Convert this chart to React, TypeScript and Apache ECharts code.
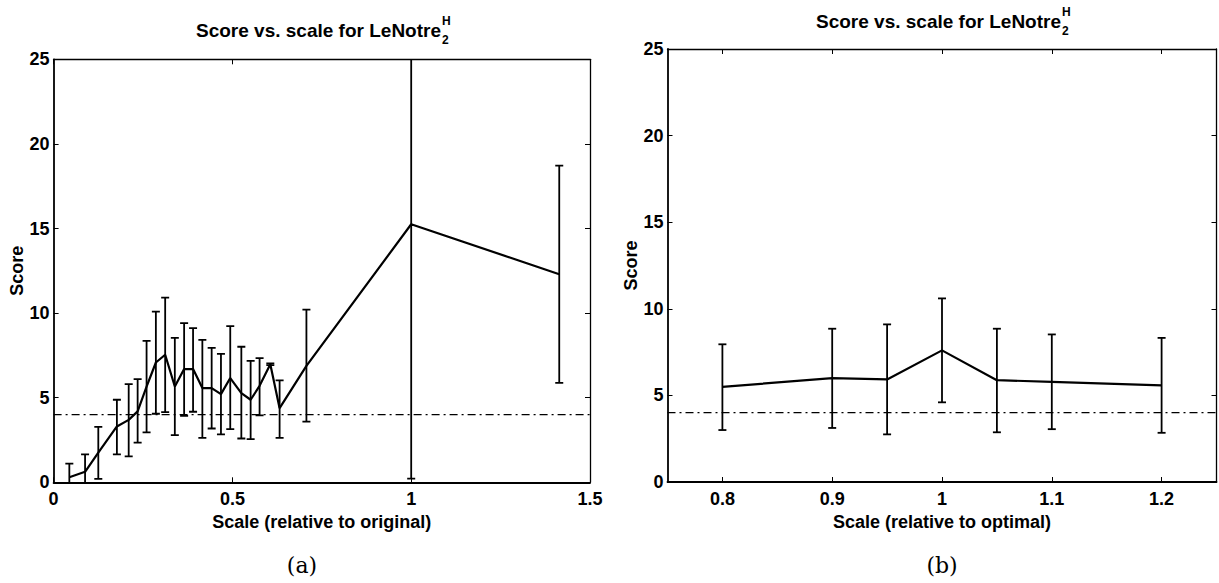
import React, { useEffect, useRef } from 'react';
import * as echarts from 'echarts';

// ---- Data: panel (a) ----
const leftX = [0.044, 0.088, 0.125, 0.177, 0.21, 0.235, 0.26, 0.286, 0.312, 0.339, 0.365, 0.39, 0.416, 0.442, 0.468, 0.494, 0.525, 0.551, 0.576, 0.606, 0.632, 0.707, 1.0, 1.414];
const leftScore = [0.3, 0.62, 1.75, 3.3, 3.69, 4.19, 5.66, 7.08, 7.54, 5.66, 6.69, 6.69, 5.57, 5.57, 5.21, 6.16, 5.27, 4.88, 5.7, 6.98, 4.38, 6.88, 15.25, 12.3];
const leftHigh = [1.1, 1.65, 3.28, 4.88, 5.8, 6.1, 8.36, 10.09, 10.92, 8.54, 9.41, 9.11, 8.42, 7.95, 7.59, 9.23, 8.01, 7.18, 7.34, 7.03, 6.02, 10.2, 30.3, 18.72];
const leftLow = [-0.5, -0.4, 0.2, 1.65, 1.53, 2.35, 2.95, 4.05, 4.15, 2.79, 3.93, 4.17, 2.63, 3.18, 2.83, 3.14, 2.59, 2.55, 3.95, 6.93, 2.63, 3.59, 0.22, 5.88];

// ---- Data: panel (b) ----
const rightX = [0.8, 0.9, 0.95, 1.0, 1.05, 1.1, 1.2];
const rightScore = [5.49, 6.0, 5.92, 7.6, 5.88, 5.78, 5.58];
const rightHigh = [7.95, 8.85, 9.1, 10.6, 8.85, 8.52, 8.32];
const rightLow = [3.0, 3.12, 2.75, 4.6, 2.87, 3.05, 2.84];

// ---- Axes ----
const leftXRange = [0, 1.5];
const rightXRange = [0.75, 1.25];
const rightXTicks = [0.8, 0.9, 1, 1.1, 1.2];
const yRange = [0, 25];
const threshold = 4;

const titleText = 'Score vs. scale for LeNotre';
const leftXName = 'Scale (relative to original)';
const rightXName = 'Scale (relative to optimal)';
const yName = 'Score';

const FONT = 'Liberation Sans';

const labelStyle = {
  fontFamily: FONT,
  fontWeight: 'bold' as const,
  fontSize: 18,
  color: '#000',
};

function errorBarItem(params: any, api: any) {
  const x = api.value(0);
  const lo = api.value(1);
  const hi = api.value(2);
  const pHi = api.coord([x, hi]);
  const pLo = api.coord([x, lo]);
  const half = 4;
  const style = { stroke: '#000', lineWidth: 1.8, fill: null };
  return {
    type: 'group',
    children: [
      { type: 'line', shape: { x1: pHi[0], y1: pHi[1], x2: pLo[0], y2: pLo[1] }, style },
      { type: 'line', shape: { x1: pHi[0] - half, y1: pHi[1], x2: pHi[0] + half, y2: pHi[1] }, style },
      { type: 'line', shape: { x1: pLo[0] - half, y1: pLo[1], x2: pLo[0] + half, y2: pLo[1] }, style },
    ],
  };
}

function mainXAxis(gridIndex: number, range: number[], name: string, custom?: number[]) {
  const ax: any = {
    type: 'value',
    gridIndex,
    min: range[0],
    max: range[1],
    position: 'bottom',
    name,
    nameLocation: 'middle',
    nameGap: 28,
    nameTextStyle: { ...labelStyle },
    axisLine: { show: true, onZero: false, lineStyle: { color: '#000', width: 1.8 } },
    axisTick: { show: true, inside: true, length: 5, lineStyle: { color: '#000', width: 1 } },
    axisLabel: { ...labelStyle, margin: 8 },
    splitLine: { show: false },
  };
  if (custom) {
    ax.axisTick.customValues = custom;
    ax.axisLabel.customValues = custom;
  } else {
    ax.interval = 0.5;
  }
  return ax;
}

function topXAxis(gridIndex: number, range: number[], custom?: number[]) {
  const ax: any = {
    type: 'value',
    gridIndex,
    min: range[0],
    max: range[1],
    position: 'top',
    axisLine: { show: true, onZero: false, lineStyle: { color: '#000', width: 1.3 } },
    axisTick: { show: true, inside: true, length: 5, lineStyle: { color: '#000', width: 1 } },
    axisLabel: { show: false },
    splitLine: { show: false },
  };
  if (custom) {
    ax.axisTick.customValues = custom;
    ax.axisLabel.customValues = custom;
  } else {
    ax.interval = 0.5;
  }
  return ax;
}

function mainYAxis(gridIndex: number) {
  return {
    type: 'value',
    gridIndex,
    min: yRange[0],
    max: yRange[1],
    interval: 5,
    position: 'left',
    name: yName,
    nameLocation: 'middle',
    nameGap: 26,
    nameTextStyle: { ...labelStyle },
    axisLine: { show: true, onZero: false, lineStyle: { color: '#000', width: 1.8 } },
    axisTick: { show: true, inside: true, length: 5, lineStyle: { color: '#000', width: 1 } },
    axisLabel: { ...labelStyle, margin: 4 },
    splitLine: { show: false },
  };
}

function rightYAxis(gridIndex: number) {
  return {
    type: 'value',
    gridIndex,
    min: yRange[0],
    max: yRange[1],
    interval: 5,
    position: 'right',
    axisLine: { show: true, onZero: false, lineStyle: { color: '#000', width: 1.3 } },
    axisTick: { show: true, inside: true, length: 5, lineStyle: { color: '#000', width: 1 } },
    axisLabel: { show: false },
    splitLine: { show: false },
  };
}

function titleGraphic(endX: number, cy: number) {
  return [
    {
      type: 'text',
      x: endX,
      y: cy,
      style: { text: titleText, font: `bold 19px "${FONT}"`, fill: '#000', align: 'right', verticalAlign: 'middle' },
    },
    {
      type: 'text',
      x: endX + 1,
      y: cy - 9,
      style: { text: 'H', font: `bold 12px "${FONT}"`, fill: '#000', align: 'left', verticalAlign: 'middle' },
    },
    {
      type: 'text',
      x: endX + 1,
      y: cy + 10,
      style: { text: '2', font: `bold 12px "${FONT}"`, fill: '#000', align: 'left', verticalAlign: 'middle' },
    },
  ];
}

export default function App() {
  const ref = useRef<HTMLDivElement>(null);

  useEffect(() => {
    if (!ref.current) return;
    const chart = echarts.init(ref.current, undefined, { renderer: 'svg' });

    const leftLine = leftX.map((x, i) => [x, leftScore[i]]);
    const leftBars = leftX.map((x, i) => [x, leftLow[i], leftHigh[i]]);
    const rightLine = rightX.map((x, i) => [x, rightScore[i]]);
    const rightBars = rightX.map((x, i) => [x, rightLow[i], rightHigh[i]]);

    const option: any = {
      animation: false,
      backgroundColor: '#fff',
      grid: [
        { left: 53.6, top: 59.3, width: 536.4, height: 423 },
        { left: 667.5, top: 49, width: 549, height: 433 },
      ],
      xAxis: [
        mainXAxis(0, leftXRange, leftXName),
        topXAxis(0, leftXRange),
        mainXAxis(1, rightXRange, rightXName, rightXTicks),
        topXAxis(1, rightXRange, rightXTicks),
      ],
      yAxis: [mainYAxis(0), rightYAxis(0), mainYAxis(1), rightYAxis(1)],
      series: [
        {
          type: 'line',
          xAxisIndex: 0,
          yAxisIndex: 0,
          data: [[leftXRange[0], threshold], [leftXRange[1], threshold]],
          symbol: 'none',
          lineStyle: { color: '#000', width: 1.3, type: [8, 4, 2, 4] },
          silent: true,
        },
        {
          type: 'line',
          xAxisIndex: 0,
          yAxisIndex: 0,
          data: leftLine,
          symbol: 'none',
          lineStyle: { color: '#000', width: 2.2 },
          clip: true,
        },
        {
          type: 'custom',
          xAxisIndex: 0,
          yAxisIndex: 0,
          data: leftBars,
          encode: { x: 0, y: [1, 2] },
          renderItem: errorBarItem,
          clip: true,
        },
        {
          type: 'line',
          xAxisIndex: 2,
          yAxisIndex: 2,
          data: [[rightXRange[0], threshold], [rightXRange[1], threshold]],
          symbol: 'none',
          lineStyle: { color: '#000', width: 1.3, type: [8, 4, 2, 4] },
          silent: true,
        },
        {
          type: 'line',
          xAxisIndex: 2,
          yAxisIndex: 2,
          data: rightLine,
          symbol: 'none',
          lineStyle: { color: '#000', width: 2.2 },
        },
        {
          type: 'custom',
          xAxisIndex: 2,
          yAxisIndex: 2,
          data: rightBars,
          encode: { x: 0, y: [1, 2] },
          renderItem: errorBarItem,
          clip: true,
        },
      ],
      graphic: [
        ...titleGraphic(441, 30),
        ...titleGraphic(1061, 21),
        {
          type: 'text',
          x: 302,
          y: 565,
          style: { text: '(a)', font: '22px "DejaVu Serif"', fill: '#000', align: 'center', verticalAlign: 'middle' },
        },
        {
          type: 'text',
          x: 942,
          y: 565,
          style: { text: '(b)', font: '22px "DejaVu Serif"', fill: '#000', align: 'center', verticalAlign: 'middle' },
        },
      ],
    };

    chart.setOption(option);
    return () => chart.dispose();
  }, []);

  return (
    <div
      ref={ref}
      style={{ position: 'fixed', left: 0, top: 0, width: 1219, height: 583, background: '#fff' }}
    />
  );
}
